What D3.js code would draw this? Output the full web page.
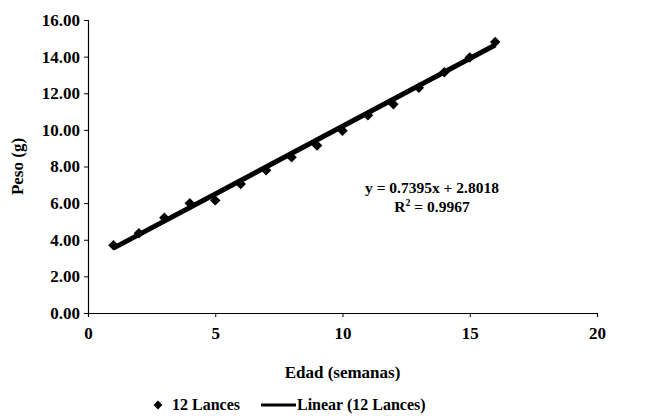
<!DOCTYPE html>
<html>
<head>
<meta charset="utf-8">
<script src="https://cdn.jsdelivr.net/npm/d3@7"></script>
<style>
  body { margin: 0; background: #fff; }
</style>
</head>
<body>
<div id="chart"></div>
<script>
// values
const edadSemanas = [1, 2, 3, 4, 5, 6, 7, 8, 9, 10, 11, 12, 13, 14, 15, 16];
const pesoGramos = [3.7, 4.35, 5.2, 6.0, 6.15, 7.05, 7.8, 8.5, 9.15, 9.95, 10.8, 11.4, 12.3, 13.15, 13.95, 14.8];
const yTicks = [0, 2, 4, 6, 8, 10, 12, 14, 16];
const xTicks = [0, 5, 10, 15, 20];
const trendSlope = 0.7395;
const trendIntercept = 2.8018;
const rSquared = "0.9967";
const seriesName = "12 Lances";

const width = 655, height = 418;
const margin = { top: 20, right: 58, bottom: 105, left: 88 };
const serif = "'Liberation Serif', 'Times New Roman', 'DejaVu Serif', serif";

const svg = d3.select("#chart").append("svg")
  .attr("width", width)
  .attr("height", height);

const x = d3.scaleLinear().domain([0, 20]).range([margin.left, width - margin.right]);
const y = d3.scaleLinear().domain([0, 16]).range([height - margin.bottom, margin.top]);

// y axis
const yAxis = svg.append("g")
  .attr("transform", `translate(${margin.left},0)`)
  .call(d3.axisLeft(y).tickValues(yTicks).tickSize(4).tickPadding(4).tickFormat(d3.format(".2f")));
yAxis.selectAll("text").style("font-size", "17px");

// x axis
const xAxis = svg.append("g")
  .attr("transform", `translate(0,${y(0)})`)
  .call(d3.axisBottom(x).tickValues(xTicks).tickSize(4).tickPadding(10));
xAxis.selectAll("text").style("font-size", "17px");

svg.selectAll(".domain").attr("stroke", "#000").attr("stroke-width", 1.2);
svg.selectAll(".tick line").attr("stroke", "#000");

// axis titles
svg.append("text")
  .attr("transform", `translate(23,${(y(0) + y(16)) / 2}) rotate(-90)`)
  .attr("text-anchor", "middle")
  .style("font-size", "17px")
  .text("Peso (g)");

svg.append("text")
  .attr("x", (x(0) + x(20)) / 2)
  .attr("y", 378)
  .attr("text-anchor", "middle")
  .style("font-size", "17px")
  .text("Edad (semanas)");

// linear trend line
const trendX = d3.extent(edadSemanas);
svg.append("line")
  .attr("x1", x(trendX[0]))
  .attr("y1", y(trendIntercept + trendSlope * trendX[0]))
  .attr("x2", x(trendX[1]))
  .attr("y2", y(trendIntercept + trendSlope * trendX[1]))
  .attr("stroke", "#000")
  .attr("stroke-width", 5);

// data points
const diamond = d3.symbol().type(d3.symbolDiamond2).size(70);
svg.selectAll(".pt")
  .data(edadSemanas.map((e, i) => ({ e, p: pesoGramos[i] })))
  .enter()
  .append("path")
  .attr("class", "pt")
  .attr("d", diamond)
  .attr("transform", d => `translate(${x(d.e)},${y(d.p)})`)
  .attr("fill", "#000");

// equation
svg.append("text")
  .attr("x", 432)
  .attr("y", 193)
  .attr("text-anchor", "middle")
  .style("font-size", "15.5px")
  .text(`y = ${trendSlope}x + ${trendIntercept}`);

const r2 = svg.append("text")
  .attr("x", 432)
  .attr("y", 212)
  .attr("text-anchor", "middle")
  .style("font-size", "15.5px");
r2.append("tspan").text("R");
r2.append("tspan").attr("dy", -6).style("font-size", "10px").text("2");
r2.append("tspan").attr("dy", 6).text(` = ${rSquared}`);

// legend
const legend = svg.append("g").attr("transform", "translate(0,410)");
legend.append("path")
  .attr("d", d3.symbol().type(d3.symbolDiamond2).size(50))
  .attr("transform", "translate(158,-5)")
  .attr("fill", "#000");
legend.append("text")
  .attr("x", 172)
  .attr("y", 0)
  .style("font-size", "16px")
  .text(seriesName);
legend.append("line")
  .attr("x1", 261).attr("x2", 296)
  .attr("y1", -5).attr("y2", -5)
  .attr("stroke", "#000")
  .attr("stroke-width", 3);
legend.append("text")
  .attr("x", 297)
  .attr("y", 0)
  .style("font-size", "16px")
  .text(`Linear (${seriesName})`);

// serif bold everywhere, like the printed figure
svg.selectAll("text")
  .style("font-family", serif)
  .style("font-weight", "bold")
  .attr("fill", "#000");
</script>
</body>
</html>
